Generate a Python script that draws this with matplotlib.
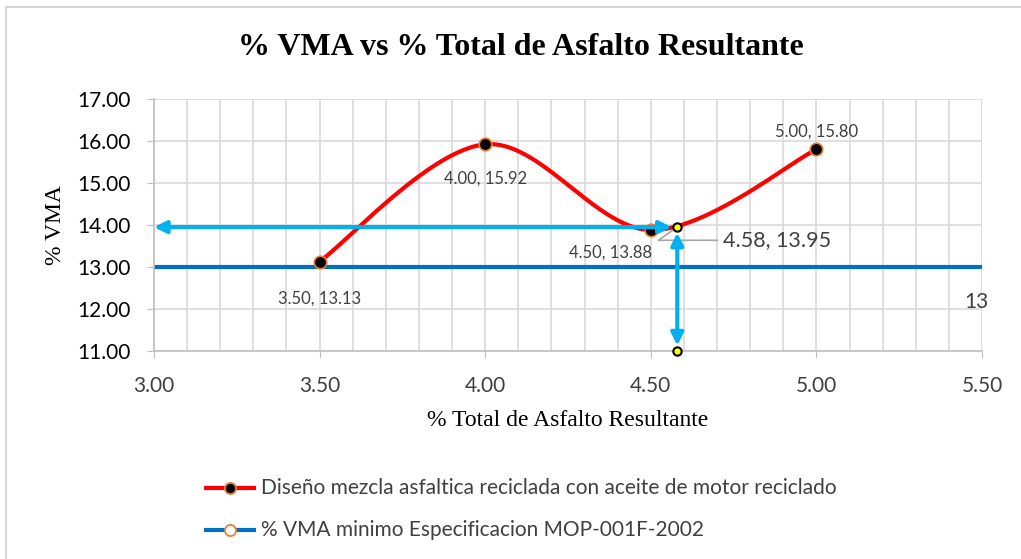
import matplotlib.pyplot as plt
import numpy as np
from matplotlib.patches import Rectangle

# data
asfalto = [3.50, 4.00, 4.50, 5.00]
vma = [13.13, 15.92, 13.88, 15.80]
vma_min = 13
vma_min_x = [3.0, 5.5]
punto_x = 4.58
punto_y = 13.95
y_base = 11.0

red = '#FF0000'
blue_line = '#0070C0'
cyan = '#00B0F0'
orange = '#ED7D31'
txt_gray = '#404040'


def excel_smooth(xs, ys, n=60):
    # bezier smoothing like office "smoothed line"
    p = np.column_stack([xs, ys]).astype(float)
    pts = np.vstack([p[0], p, p[-1]])
    out = []
    t = np.linspace(0, 1, n)[:, None]
    for i in range(1, len(pts) - 2):
        p0, p1 = pts[i], pts[i + 1]
        c1 = p0 + (pts[i + 1] - pts[i - 1]) / 6
        c2 = p1 - (pts[i + 2] - pts[i]) / 6
        seg = ((1 - t) ** 3) * p0 + 3 * ((1 - t) ** 2) * t * c1 + 3 * (1 - t) * t ** 2 * c2 + t ** 3 * p1
        out.append(seg)
    out = np.vstack(out)
    return out[:, 0], out[:, 1]


fig = plt.figure(figsize=(10.21, 5.59), dpi=100)
ax = fig.add_axes([0.1508, 0.372, 0.811, 0.451])

# outer frame
fig.patches.append(Rectangle((0.006, -0.05), 1.1, 1.037, transform=fig.transFigure,
                             fill=False, edgecolor='#D0D0D0', linewidth=1.2))

sx, sy = excel_smooth(asfalto, vma)
ax.plot(sx, sy, color=red, linewidth=3, zorder=3)
ax.plot(asfalto, vma, linestyle='none', marker='o', markersize=9,
        markerfacecolor='black', markeredgecolor=orange, markeredgewidth=1.2, zorder=4)

ax.plot(vma_min_x, [vma_min, vma_min], color=blue_line, linewidth=3, zorder=2)
ax.text(5.483, 12.17, '13', fontsize=15, color=txt_gray, ha='center', va='center',
        family='Lato')

# arrows
ax.annotate('', xy=(3.0, punto_y), xytext=(punto_x, punto_y),
            arrowprops=dict(arrowstyle='<|-|>', color=cyan, lw=3, mutation_scale=18,
                            shrinkA=4, shrinkB=0), zorder=5)
ax.annotate('', xy=(punto_x, y_base), xytext=(punto_x, punto_y),
            arrowprops=dict(arrowstyle='<|-|>', color=cyan, lw=3, mutation_scale=18,
                            shrinkA=4, shrinkB=4), zorder=5)
ax.plot([punto_x, punto_x], [punto_y, y_base], linestyle='none', marker='o', markersize=6,
        markerfacecolor='#FFFF00', markeredgecolor='black', markeredgewidth=1.5,
        zorder=6, clip_on=False)

# data labels
lbl = dict(fontsize=12, color=txt_gray, family='Lato')
ax.annotate('3.50, 13.13', (3.50, 13.13), xytext=(0, -27), textcoords='offset points',
            ha='center', va='center', **lbl)
ax.annotate('4.00, 15.92', (4.00, 15.92), xytext=(0, -25), textcoords='offset points',
            ha='center', va='center', **lbl)
ax.annotate('4.50, 13.88', (4.50, 13.88), xytext=(-29, -16), textcoords='offset points',
            ha='center', va='center', **lbl)
ax.annotate('5.00, 15.80', (5.00, 15.80), xytext=(0, 13), textcoords='offset points',
            ha='center', va='center', **lbl)
ax.annotate('4.58, 13.95', (punto_x, punto_y), xytext=(33, -9.5), textcoords='offset points',
            ha='left', va='center', fontsize=15.5, color=txt_gray, family='Lato',
            arrowprops=dict(arrowstyle='-', color='#A6A6A6', lw=1.2, shrinkA=2, shrinkB=3,
                            relpos=(0, 0.5), connectionstyle='angle,angleA=0,angleB=35,rad=0'))

ax.set_xlim(3.0, 5.5)
ax.set_ylim(11, 17)
ax.set_xticks(np.arange(3.0, 5.51, 0.5))
ax.set_xticks(np.arange(3.0, 5.51, 0.1), minor=True)
ax.set_yticks(np.arange(11, 17.01, 1))
ax.xaxis.set_major_formatter(lambda v, p: f'{v:.2f}')
ax.yaxis.set_major_formatter(lambda v, p: f'{v:.2f}')
ax.grid(which='both', color='#D9D9D9', linewidth=1.2)
ax.set_axisbelow(True)
for s in ['top', 'right']:
    ax.spines[s].set_visible(False)
for s in ['left', 'bottom']:
    ax.spines[s].set_color('#BFBFBF')
    ax.spines[s].set_linewidth(1.2)
ax.tick_params(which='major', length=5, color='#BFBFBF', labelsize=15, labelcolor='black')
ax.tick_params(which='minor', length=0)
for t in ax.get_xticklabels() + ax.get_yticklabels():
    t.set_family('Lato')
ax.tick_params(axis='x', labelcolor=txt_gray, pad=13)
ax.tick_params(axis='y', pad=12)

ax.set_xlabel('% Total de Asfalto Resultante', family='Liberation Serif', fontsize=17, labelpad=10)
ax.set_ylabel('% VMA', family='Liberation Serif', fontsize=17, labelpad=8)
fig.text(0.51, 0.915, '% VMA vs % Total de Asfalto Resultante', ha='center', va='center',
         family='Liberation Serif', fontweight='bold', fontsize=23)

# legend built by hand in figure coords
lx0, lx1 = 0.202, 0.249
for yy, col, mfc, label in [(0.127, red, 'black', 'Diseño mezcla asfaltica reciclada con aceite de motor reciclado'),
                            (0.052, blue_line, 'white', '% VMA minimo Especificacion MOP-001F-2002')]:
    fig.add_artist(plt.Line2D([lx0, lx1], [yy, yy], color=col, linewidth=3, transform=fig.transFigure))
    fig.add_artist(plt.Line2D([(lx0 + lx1) / 2], [yy], marker='o', markersize=8, markerfacecolor=mfc,
                              markeredgecolor=orange, markeredgewidth=1.3, transform=fig.transFigure))
    fig.text(0.256, yy, label, fontsize=15, color=txt_gray, va='center', family='Lato')

fig.savefig('out.png', dpi=100)
